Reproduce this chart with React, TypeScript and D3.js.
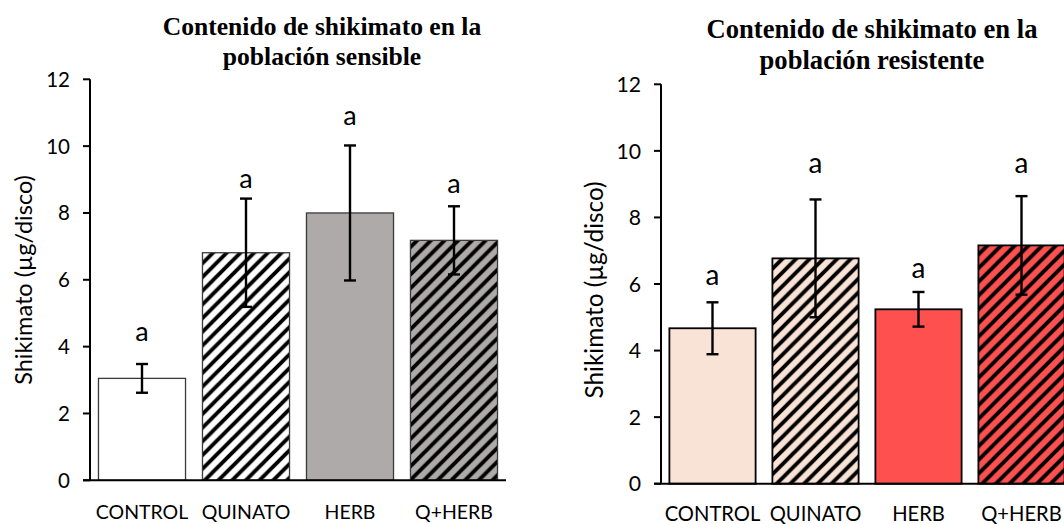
import React from "react";
import * as d3 from "d3";

// Categories shared by both panels
const categories = ["CONTROL", "QUINATO", "HERB", "Q+HERB"];

// Shikimate content (µg/disco), sensitive population
const sensibleMeans = [3.05, 6.81, 8.0, 7.18];
const sensibleErrors = [0.43, 1.62, 2.02, 1.02];
const sensibleLetters = ["a", "a", "a", "a"];
const sensibleLetterAt = [4.16, 8.74, 10.62, 8.59];

// Shikimate content (µg/disco), resistant population
const resistenteMeans = [4.67, 6.77, 5.24, 7.16];
const resistenteErrors = [0.78, 1.77, 0.52, 1.48];
const resistenteLetters = ["a", "a", "a", "a"];
const resistenteLetterAt = [5.97, 9.33, 6.17, 9.33];

const yTicks = [0, 2, 4, 6, 8, 10, 12];

const SANS = "Lato, 'Open Sans', sans-serif";
const SERIF = "'Liberation Serif', 'Times New Roman', serif";

type Panel = {
  key: string;
  title: [string, string];
  means: number[];
  errors: number[];
  letters: string[];
  letterAt: number[];
  x0: number;
  x1: number;
  yTop: number;
  yBottom: number;
  titleX: number;
  titleY: [number, number];
  titleSize: number;
  scale: number;
  yLabelX: number;
  yLabelY: number;
  catY: number;
  fills: string[];
  stroke: string;
  strokeWidth: number;
};

const panels: Panel[] = [
  {
    key: "sens",
    title: ["Contenido de shikimato en la", "población sensible"],
    means: sensibleMeans,
    errors: sensibleErrors,
    letters: sensibleLetters,
    letterAt: sensibleLetterAt,
    x0: 90,
    x1: 506,
    yTop: 79.3,
    yBottom: 480.3,
    titleX: 322,
    titleY: [34.5, 65],
    titleSize: 25.6,
    scale: 1,
    yLabelX: 32,
    yLabelY: 280,
    catY: 519,
    fills: ["#ffffff", "url(#hatch-white)", "#aeaaaa", "url(#hatch-gray)"],
    stroke: "#3a3a3a",
    strokeWidth: 1.3,
  },
  {
    key: "res",
    title: ["Contenido de shikimato en la", "población resistente"],
    means: resistenteMeans,
    errors: resistenteErrors,
    letters: resistenteLetters,
    letterAt: resistenteLetterAt,
    x0: 661,
    x1: 1073,
    yTop: 84.3,
    yBottom: 483.7,
    titleX: 872,
    titleY: [37.8, 68.5],
    titleSize: 26.6,
    scale: 1.035,
    yLabelX: 603,
    yLabelY: 290,
    catY: 521,
    fills: ["#f9e3d6", "url(#hatch-peach)", "#ff5050", "url(#hatch-red)"],
    stroke: "#000000",
    strokeWidth: 1.8,
  },
];

// base text sizes (px)
const TICK_SIZE = 20.5;
const CAT_SIZE = 19.5;
const AXIS_TITLE_SIZE = 23.5;
const LETTER_SIZE = 27;

const HATCH = 13.7;

function Hatch({ id, bg }: { id: string; bg: string }) {
  const s = HATCH;
  return (
    <pattern id={id} patternUnits="userSpaceOnUse" width={s} height={s}>
      <rect width={s} height={s} fill={bg} />
      <path
        d={`M0,${s} L${s},0 M${-s / 2},${s / 2} L${s / 2},${-s / 2} M${s / 2},${s * 1.5} L${s * 1.5},${s / 2}`}
        stroke="#000"
        strokeWidth={3.9}
      />
    </pattern>
  );
}

function ChartPanel({ p }: { p: Panel }) {
  const x = d3
    .scaleBand<string>()
    .domain(categories)
    .range([p.x0, p.x1])
    .paddingInner(0.163)
    .paddingOuter(0.0815);
  const y = d3.scaleLinear().domain([0, 12]).range([p.yBottom, p.yTop]);
  const capHalf = 6;
  const k = p.scale;

  return (
    <g>
      <text
        x={p.titleX}
        fontFamily={SERIF}
        fontWeight="bold"
        fontSize={p.titleSize}
        textAnchor="middle"
        fill="#000"
      >
        <tspan x={p.titleX} y={p.titleY[0]}>{p.title[0]}</tspan>
        <tspan x={p.titleX} y={p.titleY[1]}>{p.title[1]}</tspan>
      </text>

      {categories.map((c, i) => {
        const bx = x(c)!;
        const bw = x.bandwidth();
        const v = p.means[i];
        return (
          <rect
            key={c}
            x={bx}
            y={y(v)}
            width={bw}
            height={y(0) - y(v)}
            fill={p.fills[i]}
            stroke={p.stroke}
            strokeWidth={p.strokeWidth}
          />
        );
      })}

      {categories.map((c, i) => {
        const cx = x(c)! + x.bandwidth() / 2;
        const hi = y(p.means[i] + p.errors[i]);
        const lo = y(p.means[i] - p.errors[i]);
        return (
          <g key={c} stroke="#000" strokeWidth={2.4}>
            <line x1={cx} x2={cx} y1={hi} y2={lo} />
            <line x1={cx - capHalf} x2={cx + capHalf} y1={hi} y2={hi} />
            <line x1={cx - capHalf} x2={cx + capHalf} y1={lo} y2={lo} />
          </g>
        );
      })}

      {categories.map((c, i) => (
        <text
          key={c}
          x={x(c)! + x.bandwidth() / 2}
          y={y(p.letterAt[i])}
          fontFamily={SANS}
          fontSize={LETTER_SIZE * k}
          textAnchor="middle"
          fill="#000"
        >
          {p.letters[i]}
        </text>
      ))}

      {/* y axis */}
      <line x1={p.x0} x2={p.x0} y1={y(12)} y2={y(0)} stroke="#000" strokeWidth={2} />
      {yTicks.map((t) => (
        <g key={t}>
          <line x1={p.x0 - 7} x2={p.x0} y1={y(t)} y2={y(t)} stroke="#000" strokeWidth={2} />
          <text
            x={p.x0 - 20}
            y={y(t)}
            dy="0.36em"
            fontFamily={SANS}
            fontSize={TICK_SIZE * k}
            textAnchor="end"
            fill="#000"
          >
            {t}
          </text>
        </g>
      ))}
      <text
        transform={`translate(${p.yLabelX},${p.yLabelY}) rotate(-90)`}
        fontFamily={SANS}
        fontSize={AXIS_TITLE_SIZE * k}
        textAnchor="middle"
        fill="#000"
      >
        Shikimato (µg/disco)
      </text>

      {/* x axis */}
      <line x1={p.x0 - 7} x2={p.x1} y1={y(0)} y2={y(0)} stroke="#000" strokeWidth={2} />
      {categories.map((c) => (
        <text
          key={c}
          x={x(c)! + x.bandwidth() / 2}
          y={p.catY}
          fontFamily={SANS}
          fontSize={CAT_SIZE * k}
          textAnchor="middle"
          fill="#000"
        >
          {c}
        </text>
      ))}
    </g>
  );
}

export default function App() {
  return (
    <svg
      width={1064}
      height={524}
      style={{ position: "absolute", left: 0, top: 0, display: "block" }}
    >
      <defs>
        <Hatch id="hatch-white" bg="#ffffff" />
        <Hatch id="hatch-gray" bg="#aeaaaa" />
        <Hatch id="hatch-peach" bg="#f9e3d6" />
        <Hatch id="hatch-red" bg="#ff5050" />
      </defs>
      <rect width={1064} height={524} fill="#fff" />
      {panels.map((p) => (
        <ChartPanel key={p.key} p={p} />
      ))}
    </svg>
  );
}
